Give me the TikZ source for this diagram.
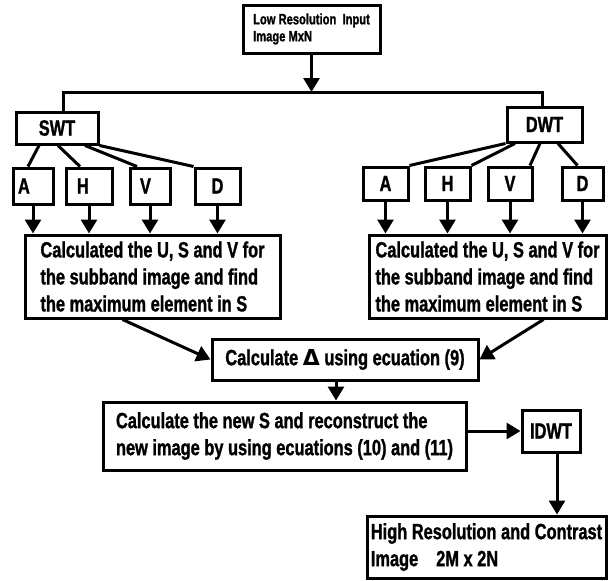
\documentclass[tikz,border=0pt]{standalone}
\usepackage{fontspec}
\setmainfont{Liberation Sans}[FakeStretch=0.745, FakeBold=1.2]
\newfontfamily\symfont{DejaVu Sans}
\usepackage{tikz}
\usetikzlibrary{arrows.meta, positioning}

\tikzset{
  box/.style={draw, line width=3pt, inner sep=0pt, align=left,
    font=\bfseries\fontsize{22}{27}\selectfont},
  arr/.style={line width=3pt, -{Triangle[length=14pt,width=16pt]}},
  ln/.style={line width=3pt},
}

\begin{document}
\begin{tikzpicture}[x=1pt, y=-1pt]
  \useasboundingbox (0,0) rectangle (608,581);

  % Eingang
  \node[box, minimum width=137pt, minimum height=48pt, font=\bfseries\fontsize{15}{17}\selectfont]
    (input) at (311.5,29) {Low Resolution\ \ Input\\Image MxN};
  \coordinate (jl) at (63,92);
  \coordinate (jr) at (542,92);

  % Transformationen
  \node[box, minimum width=82pt, minimum height=32pt] (swt) at (57,128) {SWT};
  \node[box, minimum width=75pt, minimum height=35pt] (dwt) at (544.5,124.5) {DWT};

  \draw[arr] (input.south) -- (input.south |- jl);
  \draw[ln] (swt.north -| jl) -- (jl) -- (jr) -- (dwt.north -| jr);

  % Teilbaender SWT
  \node[box, minimum height=36pt, text width=30pt, inner xsep=5pt] (swtA) at (33,186) {A};
  \node[box, minimum height=36pt, text width=24pt, inner xsep=11pt] (swtH) at (89,186) {H};
  \node[box, minimum height=36pt, text width=20pt, inner xsep=10pt] (swtV) at (150,186) {V};
  \node[box, minimum height=36pt, minimum width=45pt] (swtD) at (217.5,186) {D};

  % Teilbaender DWT
  \node[box, minimum height=33pt, minimum width=45pt] (dwtA) at (385.5,183.5) {A};
  \node[box, minimum height=33pt, minimum width=45pt] (dwtH) at (447.5,183.5) {H};
  \node[box, minimum height=33pt, minimum width=44pt] (dwtV) at (510,183.5) {V};
  \node[box, minimum height=33pt, minimum width=41pt] (dwtD) at (582.5,183.5) {D};

  \draw[ln] ([xshift=-18pt]swt.south) -- ([xshift=-5pt]swtA.north);
  \draw[ln] ([xshift=1pt]swt.south) -- ([xshift=-9pt]swtH.north);
  \draw[ln] ([xshift=28pt]swt.south) -- ([xshift=-13pt]swtV.north);
  \draw[ln] (swt.south east) -- (swtD.north west);

  \draw[ln] (dwt.south west) -- (dwtA.north east);
  \draw[ln] ([xshift=-29.5pt]dwt.south) -- (dwtH.north east);
  \draw[ln] ([xshift=-4.5pt]dwt.south) -- ([xshift=20pt]dwtV.north);
  \draw[ln] ([xshift=13.5pt]dwt.south) -- ([xshift=-5pt]dwtD.north);

  % SVD
  \node[box, minimum width=255pt, minimum height=83pt] (svdL) at (152.5,276.5)
    {Calculated the U, S and V for\\the subband image and find\\the maximum element in S};
  \node[box, minimum width=237pt, minimum height=83pt] (svdR) at (487.5,276.5)
    {Calculated the U, S and V for\\the subband image and find\\the maximum element in S};

  \foreach \k in {swtA,swtH,swtV,swtD}
    \draw[arr] (\k.south) -- (\k.south |- svdL.north);
  \foreach \k in {dwtA,dwtH,dwtV,dwtD}
    \draw[arr] (\k.south) -- (\k.south |- svdR.north);

  % Delta
  \node[box, minimum width=266pt, minimum height=41pt] (delta) at (345,359.5)
    {Calculate {\symfont\bfseries Δ} using ecuation (9)};
  \draw[arr] ([xshift=-30pt]svdL.south) -- (delta.west);
  \draw[arr] ([xshift=56pt]svdR.south) -- (delta.east);

  % Rekonstruktion
  \node[box, minimum width=363pt, minimum height=68pt] (news) at (284.5,436)
    {Calculate the new S and reconstruct the\\new image by using ecuations (10) and (11)};
  \draw[arr] ([xshift=-9pt]delta.south) -- ([xshift=-9pt]delta.south |- news.north);

  \node[box, minimum width=58pt, minimum height=42pt] (idwt) at (551,431) {IDWT};
  \draw[arr] (idwt.west -| news.east) -- (idwt.west);

  % Ausgang
  \node[box, minimum width=239pt, minimum height=62pt] (output) at (486.5,547)
    {High Resolution and Contrast\\Image\hspace{18pt}2M x 2N};
  \draw[arr] ([xshift=6pt]idwt.south) -- ([xshift=6pt]idwt.south |- output.north);
\end{tikzpicture}
\end{document}
